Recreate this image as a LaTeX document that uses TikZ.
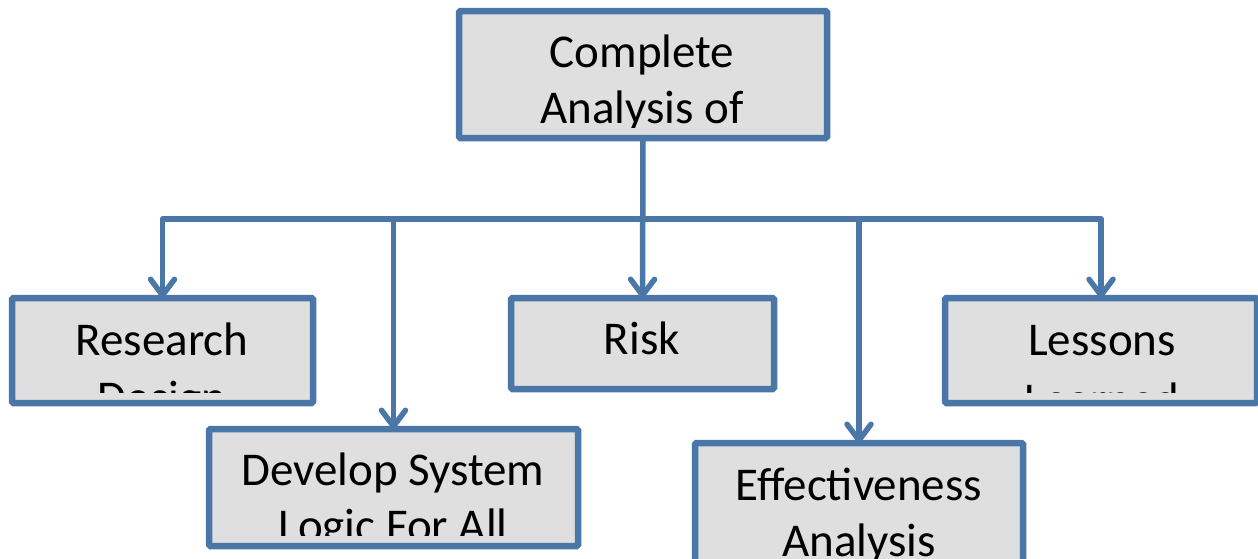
\documentclass[tikz,border=0pt]{standalone}
\usepackage{fontspec}
\setmainfont{Carlito}
\usetikzlibrary{arrows.meta}
\definecolor{edge}{RGB}{74,118,168}
\definecolor{boxfill}{RGB}{223,223,223}
\tikzset{
  box/.style={draw=edge, fill=boxfill, line width=6.5pt, inner sep=0pt, outer sep=0pt,
              rounded corners=1.5pt, rectangle},
  % anchor=base sits on the last line of a two-line label
  label/.style={font=\fontsize{47pt}{56pt}\selectfont, align=center, anchor=base,
                inner sep=0pt, text=black},
  link/.style={draw=edge, line width=5.5pt, line join=round},
  tip/.style={link, -{Straight Barb[length=16pt, width=24pt, round]}}
}
\begin{document}
\begin{tikzpicture}[x=1pt, y=-1pt]
  \clip (0,0) rectangle (1258,558);

  % boxes
  \node[box, minimum width=368pt, minimum height=127pt] (top) at (643,74.5) {};
  \node[box, minimum width=301pt, minimum height=105pt] (research) at (162.5,350.5) {};
  \node[box, minimum width=263pt, minimum height=91pt] (risk) at (642.5,343.5) {};
  \node[box, minimum width=312pt, minimum height=105pt] (lessons) at (1101,350.5) {};
  \node[box, minimum width=369pt, minimum height=117pt] (develop) at (393.5,487.5) {};
  \node[box, minimum width=328pt, minimum height=157pt] (effect) at (859,521.5) {};

  % connectors
  \coordinate (bus) at (642,219);
  \draw[tip] (top.south) -- (risk.north);
  \draw[tip] (bus) -| (research.north);
  \draw[tip] (bus) -| (develop.north);
  \draw[tip] (bus) -| (effect.north);
  \draw[tip] (bus) -| (lessons.north);

  % texts, cut off at the inner edge of each box
  \begin{scope}
    \clip (462,14) rectangle (824,127);
    \node[label] (toptext) at (642,123) {Complete\\Analysis of};
  \end{scope}
  \begin{scope}
    \clip (15,300) rectangle (310,392);
    \node[label] (researchtext) at (162,413) {Research\\[2pt]Design};
  \end{scope}
  \node[label] (risktext) at (642,354) {Risk};
  \begin{scope}
    \clip (948,300) rectangle (1254,392);
    \node[label] (lessonstext) at (1102,415) {Lessons\\[4pt]Learned};
  \end{scope}
  \begin{scope}
    \clip (212,432) rectangle (575,535);
    \node[label] (developtext) at (393,541) {Develop System\\Logic For All};
  \end{scope}
  \begin{scope}
    \clip (698,446) rectangle (1020,558);
    \node[label] (effecttext) at (859,556) {Effectiveness\\Analysis};
  \end{scope}
\end{tikzpicture}
\end{document}
